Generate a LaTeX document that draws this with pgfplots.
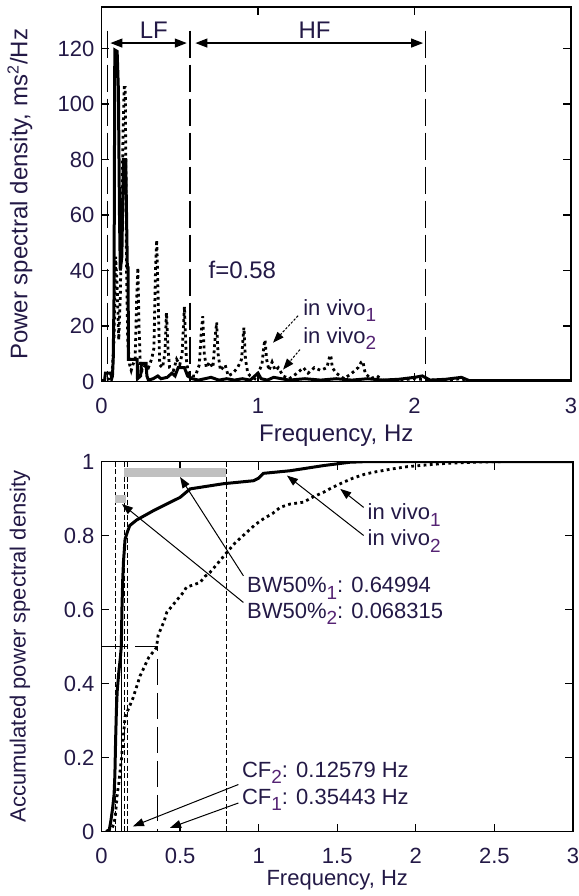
\documentclass[border=0pt]{standalone}
\usepackage{fontspec}
\setmainfont{Liberation Sans}
\usepackage{pgfplots}
\pgfplotsset{compat=1.18}
\usetikzlibrary{arrows.meta}
\definecolor{txt}{RGB}{35,25,70}
\definecolor{subc}{RGB}{85,35,115}
\definecolor{bwgray}{RGB}{192,192,192}
\newcommand{\sub}[1]{\raisebox{-0.55ex}{\fontsize{9.5}{9.5}\selectfont\color{subc}#1}}
\tikzset{ann/.style={black, line width=0.5pt, -{Triangle[length=5.5pt,width=4pt]}}}
\pgfplotsset{
  myax/.style={
    scale only axis, axis line style={line width=0.8pt},
    tick style={line width=0.6pt, black}, major tick length=4pt, tick align=inside,
    xmin=0, xmax=3,
    /pgf/number format/assume math mode=true,
    ticklabel style={font=\fontsize{11}{13}\selectfont, text=txt},
    xticklabel style={yshift=-4.75pt},
    label style={text=txt},
  },
  vivoA/.style={black, line width=1.4pt, dash pattern=on 1.4pt off 1.7pt},
  vivoB/.style={black, line width=1.5pt, line join=miter},
}
\begin{document}
\begin{tikzpicture}
\path[use as bounding box] (0,0) rectangle (289.5pt,448pt);
% ---------------- top: power spectral density ----------------
\begin{axis}[myax, at={(50.75pt,257.25pt)}, anchor=south west,
  width=234.75pt, height=187.25pt,
  ymin=0, ymax=135, xtick={0,1,2,3}, ytick={0,20,40,60,80,100,120},
  xlabel={Frequency, Hz},
  ylabel={Power spectral density, ms\textsuperscript{2}/Hz},
  label style={font=\fontsize{12}{14}\selectfont},
  xlabel style={at={(axis description cs:0.5,-0.1455)}, anchor=center},
  ylabel style={at={(axis description cs:-0.1736,0.5)}, anchor=center},
]
\addplot[forget plot, black, line width=0.6pt, dash pattern=on 13.5pt off 3.5pt] coordinates {(0.037,126.5) (0.037,0)};
\addplot[forget plot, black, line width=0.6pt, dash pattern=on 13.5pt off 3.5pt] coordinates {(0.565,126.5) (0.565,0)};
\addplot[forget plot, black, line width=0.6pt, dash pattern=on 13.5pt off 3.5pt] coordinates {(2.07,126.5) (2.07,0)};
% in vivo 2 (solid)
\addplot[vivoB] coordinates {
(0,0.3)(0.02,0.5)(0.025,3)(0.06,3)(0.065,1)(0.07,2)(0.075,8)(0.08,30)(0.085,119.5)(0.1,119)(0.108,105)(0.115,60)(0.12,40)(0.13,45)(0.14,80)(0.155,80)(0.16,60)(0.165,41)(0.17,41)(0.172,8)(0.2,8)(0.228,8)(0.23,1)(0.25,2)(0.255,6.5)(0.285,6.5)(0.29,2)(0.3,0.5)(0.33,1)(0.36,2)(0.38,1)(0.42,1.5)(0.45,3)(0.47,2)(0.49,5)(0.53,5)(0.55,2)(0.58,1)(0.62,0.5)(0.66,1)(0.7,1.5)(0.75,0.5)(0.8,1)(0.85,0.5)(0.9,1)(0.95,0.5)(0.98,2)(1.0,3)(1.02,1)(1.06,0.5)(1.1,1.5)(1.2,0.5)(1.3,1)(1.4,0.5)(1.5,1)(1.6,0.5)(1.7,1)(1.8,0.5)(1.9,0.8)(2.0,1.5)(2.05,2)(2.1,0.5)(2.2,0.8)(2.3,1.5)(2.35,0.3)(2.6,0.3)(3,0.3)};
% in vivo 1 (dotted)
\addplot[vivoA] coordinates {
(0,0)(0.05,1)(0.07,5)(0.08,15)(0.09,45)(0.1,35)(0.11,15)(0.12,30)(0.138,90)(0.145,106)(0.152,106)(0.16,40)(0.168,14)(0.18,6)(0.19,4)(0.2,6)(0.215,8)(0.225,30)(0.232,41)(0.24,20)(0.248,6)(0.26,4)(0.28,6)(0.3,5)(0.32,8)(0.335,12)(0.345,40)(0.353,51)(0.362,30)(0.372,6)(0.39,5)(0.405,10)(0.415,24.8)(0.425,12)(0.435,5)(0.46,4)(0.48,8)(0.5,6)(0.515,10)(0.53,27)(0.542,8)(0.555,3)(0.58,2)(0.6,2)(0.625,6)(0.638,18)(0.647,23.5)(0.657,10)(0.67,5)(0.69,7)(0.712,5)(0.728,17)(0.736,21.3)(0.745,10)(0.76,4)(0.79,6)(0.81,2)(0.84,3)(0.87,5)(0.895,8)(0.905,16)(0.91,19.4)(0.92,8)(0.935,3)(0.95,2)(0.98,1)(1.0,3)(1.025,6)(1.038,13)(1.045,15)(1.055,8)(1.07,4)(1.09,7)(1.11,4)(1.13,5)(1.16,2)(1.2,1)(1.25,3)(1.29,5)(1.32,3)(1.36,5)(1.4,4)(1.44,5)(1.458,9)(1.465,9.5)(1.475,5)(1.5,3)(1.55,1)(1.6,3)(1.64,5)(1.66,7)(1.67,7.3)(1.685,3)(1.72,1)(1.76,2)(1.8,0.5)(1.9,0.5)(2.0,1)(2.1,0.5)(2.2,0.5)(2.3,1)(2.35,0)(3,0)};
\draw[line width=0.6pt, {Triangle[length=6pt,width=4.5pt]}-{Triangle[length=6pt,width=4.5pt]}] (axis cs:0.057,122) -- (axis cs:0.545,122);
\draw[line width=0.6pt, {Triangle[length=6pt,width=4.5pt]}-{Triangle[length=6pt,width=4.5pt]}] (axis cs:0.6,122) -- (axis cs:2.055,122);
\node[anchor=base west, inner sep=0, text=txt, font=\fontsize{12}{14}\selectfont] at (axis cs:0.242,123.8) {LF};
\node[anchor=base west, inner sep=0, text=txt, font=\fontsize{12}{14}\selectfont] at (axis cs:1.257,123.8) {HF};
\node[anchor=base west, inner sep=0, text=txt, font=\fontsize{12}{14}\selectfont] at (axis cs:0.682,37.2) {f=0.58};
\node[anchor=base west, inner sep=0, text=txt, font=\fontsize{11}{13}\selectfont] at (axis cs:1.287,23.95) {in vivo\sub{1}};
\node[anchor=base west, inner sep=0, text=txt, font=\fontsize{11}{13}\selectfont] at (axis cs:1.287,13.8) {in vivo\sub{2}};
\draw[line width=0.5pt, dash pattern=on 1.2pt off 0.8pt, -{Triangle[length=5.5pt,width=4pt]}] (axis cs:1.256,23.7) -- (axis cs:1.096,14);
\draw[line width=0.5pt, dash pattern=on 1.2pt off 0.8pt, -{Triangle[length=5.5pt,width=4pt]}] (axis cs:1.268,11.5) -- (axis cs:1.16,4.3);
\end{axis}
% ---------------- bottom: accumulated PSD ----------------
\begin{axis}[myax, at={(50.75pt,32.25pt)}, anchor=south west,
  width=235.75pt, height=185pt,
  ymin=0, ymax=1, xtick={0,0.5,1,1.5,2,2.5,3}, ytick={0,0.2,0.4,0.6,0.8,1},
  xlabel={Frequency, Hz},
  ylabel={Accumulated power spectral density},
  label style={font=\fontsize{11}{13}\selectfont},
  xlabel style={at={(axis description cs:0.5,-0.131)}, anchor=center},
  ylabel style={at={(axis description cs:-0.1729,0.5)}, anchor=center},
]
\addplot[forget plot, black, line width=0.5pt, dash pattern=on 2.5pt off 1.3pt] coordinates {(0.086,1) (0.086,0)};
\addplot[forget plot, black, line width=0.5pt, dash pattern=on 2.5pt off 1.3pt] coordinates {(0.145,1) (0.145,0)};
\addplot[forget plot, black, line width=0.5pt, dash pattern=on 2.5pt off 1.3pt] coordinates {(0.165,1) (0.165,0)};
\addplot[forget plot, black, line width=0.5pt, dash pattern=on 2.5pt off 1.3pt] coordinates {(0.795,1) (0.795,0)};
\addplot[forget plot, bwgray, line width=4.2pt] coordinates {(0.146,0.970) (0.795,0.970)};
\addplot[forget plot, bwgray, line width=4.2pt] coordinates {(0.086,0.899) (0.158,0.899)};
\addplot[forget plot, black, line width=0.6pt, dash pattern=on 13pt off 4pt] coordinates {(0,0.5) (0.354,0.5) (0.354,0)};
\addplot[forget plot, black, line width=0.5pt] coordinates {(0,0.5) (0.126,0.5) (0.126,0)};
% in vivo 2 (solid)
\addplot[vivoB] coordinates {
(0.03,0)(0.05,0.005)(0.06,0.03)(0.07,0.06)(0.08,0.1)(0.085,0.15)(0.09,0.25)(0.095,0.33)(0.1,0.38)(0.11,0.43)(0.12,0.47)(0.126,0.5)(0.13,0.6)(0.135,0.68)(0.14,0.73)(0.15,0.79)(0.165,0.81)(0.18,0.827)(0.224,0.842)(0.33,0.867)(0.5,0.903)(0.564,0.926)(0.776,0.94)(0.967,0.948)(1.0,0.955)(1.03,0.968)(1.2,0.975)(1.413,0.989)(1.58,0.998)(1.7,1.0)(3,1.0)};
% in vivo 1 (dotted)
\addplot[vivoA] coordinates {
(0.04,0)(0.06,0.005)(0.08,0.02)(0.09,0.05)(0.1,0.1)(0.11,0.13)(0.12,0.17)(0.128,0.2)(0.14,0.26)(0.15,0.31)(0.17,0.33)(0.2,0.36)(0.23,0.4)(0.245,0.42)(0.3,0.47)(0.35,0.497)(0.36,0.53)(0.4,0.57)(0.415,0.592)(0.45,0.61)(0.52,0.646)(0.54,0.66)(0.627,0.673)(0.66,0.69)(0.69,0.70)(0.75,0.73)(0.797,0.754)(0.85,0.78)(0.925,0.809)(0.98,0.83)(1.03,0.845)(1.09,0.86)(1.137,0.876)(1.2,0.885)(1.285,0.89)(1.35,0.905)(1.413,0.917)(1.47,0.93)(1.54,0.944)(1.6,0.955)(1.67,0.965)(1.73,0.971)(1.85,0.98)(1.945,0.986)(2.05,0.99)(2.16,0.994)(2.3,0.997)(2.45,0.999)(2.6,1.0)};
\draw[ann] (axis cs:1.668,0.876) -- (axis cs:1.519,0.926);
\draw[ann] (axis cs:1.668,0.80) -- (axis cs:1.18,0.962);
\draw[ann] (axis cs:0.903,0.691) -- (axis cs:0.5,0.958);
\draw[ann] (axis cs:0.903,0.619) -- (axis cs:0.13,0.885);
\draw[ann] (axis cs:0.871,0.127) -- (axis cs:0.2,0.014);
\draw[ann] (axis cs:0.871,0.077) -- (axis cs:0.436,0.01);
\begin{scope}[every node/.style={anchor=base west, inner sep=0, text=txt, font=\fontsize{11}{13}\selectfont}]
\node at (axis cs:1.691,0.842) {in vivo\sub{1}};
\node at (axis cs:1.691,0.772) {in vivo\sub{2}};
\node at (axis cs:0.924,0.645) {BW50\%\sub{1}: 0.64994};
\node at (axis cs:0.924,0.576) {BW50\%\sub{2}: 0.068315};
\node at (axis cs:0.892,0.146) {CF\sub{2}: 0.12579 Hz};
\node at (axis cs:0.892,0.074) {CF\sub{1}: 0.35443 Hz};
\end{scope}
\end{axis}
\end{tikzpicture}
\end{document}
